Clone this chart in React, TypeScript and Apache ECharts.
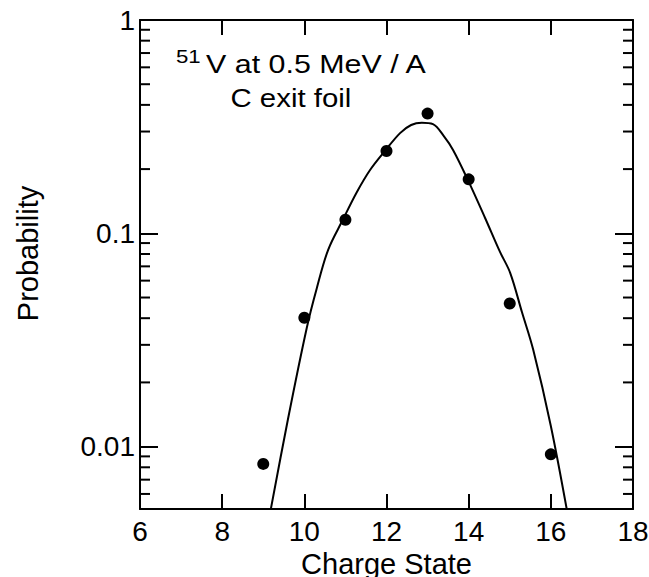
import React, { useEffect, useRef } from "react";
import * as echarts from "echarts";

const FONT = "'Liberation Sans', Arial, Helvetica, sans-serif";

// Measured data points (charge state, probability)
const chargeStates = [9, 10, 11, 12, 13, 14, 15, 16];
const probabilities = [0.0083, 0.0402, 0.1157, 0.243, 0.364, 0.179, 0.0469, 0.0092];

// Fitted curve
const curveX = [9.15, 9.6, 10.06, 10.3, 10.58, 10.94, 11.27, 11.6, 11.96, 12.33, 12.6, 12.86, 13.13, 13.4, 13.62, 13.98, 14.4, 14.76, 15.01, 15.3, 15.57, 16.0, 16.42];
const curveY = [0.0047, 0.0134, 0.0361, 0.055, 0.0837, 0.116, 0.155, 0.198, 0.243, 0.295, 0.322, 0.33, 0.325, 0.285, 0.246, 0.178, 0.118, 0.082, 0.0653, 0.0425, 0.0285, 0.0125, 0.0047];

// Axis ticks
const xTickLabels = ["6", "8", "10", "12", "14", "16", "18"];
const yTickValues = [0.01, 0.1, 1];
const yTickLabels = ["0.01", "0.1", "1"];
const yMinorTicks = [0.006, 0.007, 0.008, 0.009, 0.02, 0.03, 0.04, 0.05, 0.06, 0.07, 0.08, 0.09, 0.2, 0.3, 0.4, 0.5, 0.6, 0.7, 0.8, 0.9];

const yLabel = (v: number) => {
  for (let i = 0; i < yTickValues.length; i++) {
    if (Math.abs(Math.log10(v) - Math.log10(yTickValues[i])) < 1e-6) return yTickLabels[i];
  }
  return "";
};

export default function App() {
  const ref = useRef<HTMLDivElement>(null);
  useEffect(() => {
    if (!ref.current) return;
    const chart = echarts.init(ref.current, null, { renderer: "svg" });
    const axisLine = { show: true, lineStyle: { color: "#000", width: 2 } };
    const option: any = {
      animation: false,
      backgroundColor: "#fff",
      grid: { left: 140, right: 16, top: 20, bottom: 68, containLabel: false, outerBoundsMode: "none" },
      xAxis: [
        {
          type: "value",
          min: 6,
          max: 18,
          interval: 2,
          position: "bottom",
          name: "Charge State",
          nameLocation: "middle",
          nameGap: 40,
          nameTextStyle: { fontFamily: FONT, fontSize: 29, color: "#000" },
          axisLine,
          axisTick: { show: true, inside: true, length: 15, lineStyle: { color: "#000", width: 2 } },
          axisLabel: {
            margin: 8,
            fontFamily: FONT,
            fontSize: 28,
            color: "#000",
            formatter: (v: number) => {
              const i = Math.round((v - 6) / 2);
              return xTickLabels[i] ?? "";
            },
          },
          splitLine: { show: false },
        },
        {
          type: "value",
          min: 6,
          max: 18,
          interval: 2,
          position: "top",
          axisLine,
          axisTick: { show: true, inside: true, length: 15, lineStyle: { color: "#000", width: 2 } },
          axisLabel: { show: false },
          splitLine: { show: false },
        },
      ],
      yAxis: [
        {
          type: "log",
          logBase: 10,
          min: 0.0051,
          max: 1,
          position: "left",
          name: "Probability",
          nameLocation: "middle",
          nameGap: 98,
          nameTextStyle: { fontFamily: FONT, fontSize: 29, color: "#000", padding: [0, 0, 0, 22] },
          axisLine,
          axisTick: { show: true, inside: true, length: 18, lineStyle: { color: "#000", width: 2 } },
          axisLabel: {
            margin: 5,
            fontFamily: FONT,
            fontSize: 28,
            color: "#000",
            formatter: yLabel,
          },
          splitLine: { show: false },
          minorTick: { show: false },
        },
        {
          type: "log",
          logBase: 10,
          min: 0.0051,
          max: 1,
          position: "right",
          axisLine,
          axisTick: { show: true, inside: true, length: 18, lineStyle: { color: "#000", width: 2 } },
          axisLabel: { show: false },
          splitLine: { show: false },
        },
      ],
      graphic: [
        {
          type: "text",
          x: 176,
          y: 56,
          scaleX: 1.17,
          style: { text: "51", font: `19px ${FONT}`, fill: "#000", verticalAlign: "middle", align: "left" },
        },
        {
          type: "text",
          x: 206,
          y: 64,
          scaleX: 1.17,
          style: { text: "V at 0.5 MeV / A", font: `26px ${FONT}`, fill: "#000", verticalAlign: "middle", align: "left" },
        },
        {
          type: "text",
          x: 230.5,
          y: 98,
          scaleX: 1.13,
          style: { text: "C exit foil", font: `26px ${FONT}`, fill: "#000", verticalAlign: "middle", align: "left" },
        },
      ],
      series: [
        {
          type: "custom",
          xAxisIndex: 0,
          yAxisIndex: 0,
          silent: true,
          data: yMinorTicks.map((v) => [6, v]),
          renderItem: (params: any, api: any) => {
            const v = api.value(1);
            const pl = api.coord([6, v]);
            const pr = api.coord([18, v]);
            const st = { stroke: "#000", lineWidth: 2 };
            return {
              type: "group",
              children: [
                { type: "line", shape: { x1: pl[0], y1: pl[1], x2: pl[0] + 10, y2: pl[1] }, style: st },
                { type: "line", shape: { x1: pr[0], y1: pr[1], x2: pr[0] - 10, y2: pr[1] }, style: st },
              ],
            };
          },
        },
        {
          type: "line",
          data: curveX.map((x, i) => [x, curveY[i]]),
          showSymbol: false,
          smooth: 0.35,
          clip: true,
          lineStyle: { color: "#000", width: 2 },
          itemStyle: { color: "#000" },
          silent: true,
        },
        {
          type: "scatter",
          data: chargeStates.map((x, i) => [x, probabilities[i]]),
          symbol: "circle",
          symbolSize: 12,
          itemStyle: { color: "#000", opacity: 1 },
          silent: true,
        },
      ],
    };
    chart.setOption(option);
    return () => chart.dispose();
  }, []);
  return (
    <div
      ref={ref}
      style={{ position: "fixed", left: 0, top: 0, width: 649, height: 577, background: "#fff" }}
    />
  );
}
